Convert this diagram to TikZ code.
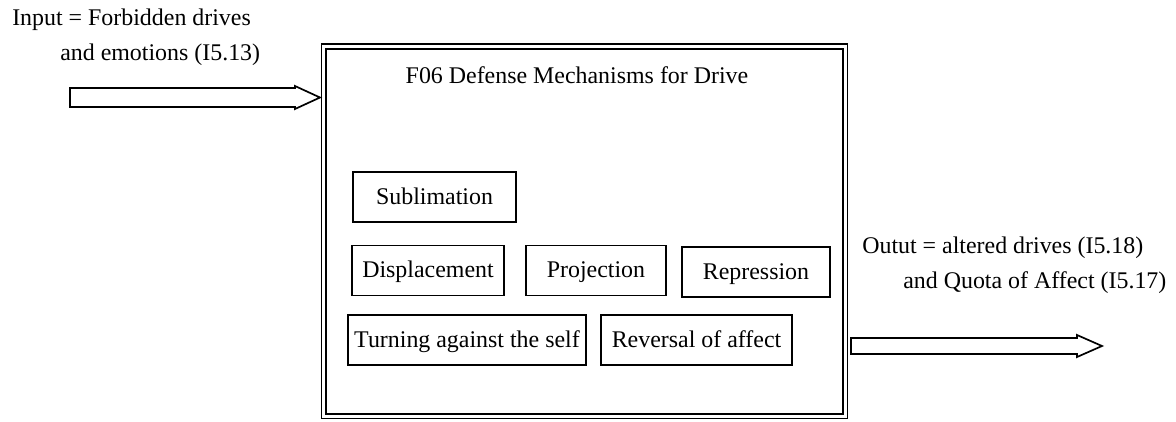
\documentclass[tikz,border=0pt]{standalone}
\usepackage{fontspec}
\setmainfont{Liberation Serif}
\usetikzlibrary{positioning,calc}
\tikzset{
    % Outer function frame (double line)
    framebox/.style={
        draw=black,
        double,
        double distance=2.2pt,
        line width=1.3pt,
        minimum width=13.025cm,
        minimum height=9.24cm
    },
    % Defense mechanism boxes
    mechbox/.style={
        draw=black,
        line width=1.2pt,
        minimum height=1.25cm,
        text height=12.5pt,
        text depth=2pt,
        align=center,
        font=\fontsize{17}{20}\selectfont
    },
    % Plain text labels
    textlabel/.style={
        inner sep=0pt,
        font=\fontsize{17}{20}\selectfont
    },
    % Hollow block arrows
    blockarrow/.style={
        draw=black,
        line width=1.2pt,
        fill=white,
        line join=miter
    }
}
\begin{document}
\begin{tikzpicture}[x=0.025cm,y=-0.025cm]

\useasboundingbox (0,0) rectangle (1176,421);

% ==================== FRAME ====================
\node[framebox] (frame) at (584.5,231.25) {};
\node[textlabel] (title) at (577,75) {F06 Defense Mechanisms for Drive};

% ==================== MECHANISMS ====================
\node[mechbox, minimum width=4.075cm] (sublimation) at (434.5,197) {Sublimation};
\node[mechbox, minimum width=3.8cm] (displacement) at (428,270.5) {Displacement};
\node[mechbox, minimum width=3.5cm] (projection) at (596,270.5) {Projection};
\node[mechbox, minimum width=3.7cm] (repression) at (756,272) {Repression};
\node[mechbox, minimum width=5.95cm] (turning) at (467,340) {Turning against the self};
\node[mechbox, minimum width=4.775cm] (reversal) at (696.5,340) {Reversal of affect};

% ==================== INPUT ====================
\node[textlabel, anchor=west] (inlabelA) at (12,20) {Input = Forbidden drives};
\node[textlabel, anchor=west] (inlabelB) at (60,55) {and emotions (I5.13)};

\coordinate (intail) at (70,97.5);
\coordinate (intip) at (320,97.5);
\draw[blockarrow] ($(intail)+(0,-9.5)$) -- ($(intip)+(-25,-9.5)$) -- ++(0,-2)
    -- (intip) -- ($(intip)+(-25,11.5)$) -- ++(0,-2) -- ($(intail)+(0,9.5)$) -- cycle;

% ==================== OUTPUT ====================
\node[textlabel, anchor=west] (outlabelA) at (862,248) {Outut = altered drives (I5.18)};
\node[textlabel, anchor=west] (outlabelB) at (903,283) {and Quota of Affect (I5.17)};

\coordinate (outtail) at (851,346);
\coordinate (outtip) at (1102,346);
\draw[blockarrow] ($(outtail)+(0,-8)$) -- ($(outtip)+(-25,-8)$) -- ++(0,-3)
    -- (outtip) -- ($(outtip)+(-25,11)$) -- ++(0,-3) -- ($(outtail)+(0,8)$) -- cycle;

\end{tikzpicture}
\end{document}
